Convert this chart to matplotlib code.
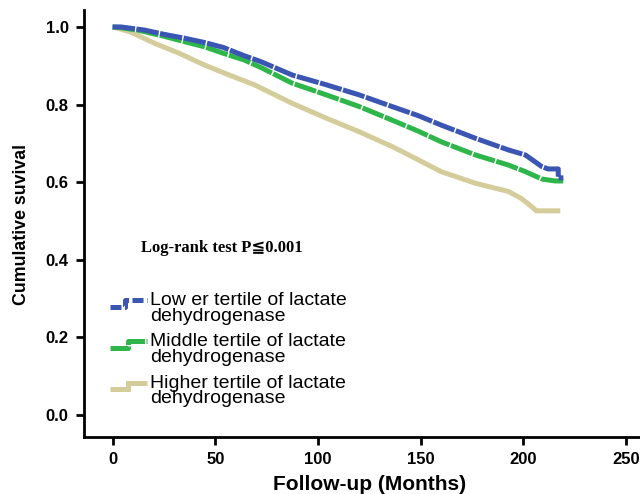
import matplotlib
matplotlib.use("Agg")
import matplotlib.pyplot as plt
from matplotlib.lines import Line2D
from matplotlib.legend_handler import HandlerBase

# Data: follow-up months and cumulative survival
lower_t = [0, 4, 15.5, 25, 35, 44.7, 54, 64, 72, 87.5, 104, 120, 136, 149, 160, 176.7, 192.7, 201, 209, 212, 217, 217, 219.5]
lower_s = [1.0, 1.0, 0.992, 0.981, 0.971, 0.960, 0.947, 0.926, 0.911, 0.876, 0.851, 0.825, 0.795, 0.771, 0.747, 0.713, 0.683, 0.670, 0.640, 0.634, 0.634, 0.611, 0.611]

middle_t = [0, 4, 12, 23.6, 35, 44.7, 54, 64, 72, 87.5, 104, 120, 136, 149, 160, 176.7, 192.7, 201, 209, 215.5, 219.5]
middle_s = [1.0, 0.998, 0.992, 0.978, 0.962, 0.949, 0.932, 0.915, 0.896, 0.855, 0.825, 0.795, 0.760, 0.731, 0.704, 0.670, 0.644, 0.627, 0.608, 0.603, 0.603]

higher_t = [0, 8.3, 20.4, 32.5, 44.7, 56.8, 69, 87.5, 104, 120, 136, 149, 160, 176.7, 192.7, 199, 204, 206.3, 218]
higher_s = [1.0, 0.988, 0.958, 0.932, 0.902, 0.876, 0.851, 0.803, 0.765, 0.730, 0.692, 0.657, 0.627, 0.597, 0.576, 0.558, 0.537, 0.526, 0.526]

labels = ["Low er tertile of lactate\ndehydrogenase",
          "Middle tertile of lactate\ndehydrogenase",
          "Higher tertile of lactate\ndehydrogenase"]
colors = ["#3b55b3", "#2eb64b", "#d4cc9b"]

x_ticks = [0, 50, 100, 150, 200, 250]
y_ticks = [0.0, 0.2, 0.4, 0.6, 0.8, 1.0]

plt.rcParams['font.family'] = ['Liberation Sans', 'DejaVu Sans']

fig = plt.figure(figsize=(6.4, 4.94), dpi=100)
ax = fig.add_axes([0.131, 0.1154, 0.869, 0.8646])

LW = 3.6
series = [(higher_t, higher_s, colors[2], None),
          (middle_t, middle_s, colors[1], (4.5, 0.3)),
          (lower_t, lower_s, colors[0], (4.5, 0.3))]
for t, s, c, d in series:
    ln, = ax.plot(t, s, color=c, lw=LW, solid_capstyle='butt', solid_joinstyle='miter')
    if d is not None:
        ln.set_dashes(d)
        ln.set_dash_capstyle('butt')

ax.set_xlim(-14, 256.8)
ax.set_ylim(-0.057, 1.044)
ax.set_xticks(x_ticks)
ax.set_yticks(y_ticks)
ax.set_xticklabels([str(v) for v in x_ticks], fontweight='bold', fontsize=12)
ax.set_yticklabels([f"{v:.1f}" for v in y_ticks], fontweight='bold', fontsize=12)
ax.tick_params(direction='out', length=6, width=2, pad=5)
for side in ['top', 'right']:
    ax.spines[side].set_visible(False)
for side in ['left', 'bottom']:
    ax.spines[side].set_linewidth(2)

ax.set_xlabel("Follow-up (Months)", fontweight='bold', fontsize=15, va='center')
ax.xaxis.set_label_coords(0.513, -0.112)
ax.set_ylabel("Cumulative suvival", fontweight='bold', fontsize=12.8, va='center')
ax.yaxis.set_label_coords(-0.112, 0.497)

ax.text(0.103, 0.443, "Log-rank test P≦0.001", transform=ax.transAxes,
        family=['Liberation Serif', 'DejaVu Sans', 'Noto Sans CJK SC'], fontweight='bold',
        fontsize=12, va='center', ha='left')


class StepHandler(HandlerBase):
    def __init__(self, color, dashes=None, split=0.5):
        super().__init__()
        self.color = color
        self.dashes = dashes
        self.split = split

    def create_artists(self, legend, orig_handle, xdescent, ydescent, width, height, fontsize, trans):
        x0 = -xdescent
        x1 = x0 + width
        xm = x0 + width * self.split
        yl = -ydescent + height * 0.6
        yh = -ydescent + height * 1.08
        line = Line2D([x0, xm, xm, x1], [yl, yl, yh, yh], color=self.color, lw=LW,
                      solid_joinstyle='miter', solid_capstyle='butt')
        if self.dashes is not None:
            line.set_dashes(self.dashes)
            line.set_dash_capstyle('butt')
        line.set_transform(trans)
        return [line]


handles = [Line2D([0], [0]), Line2D([0], [0]), Line2D([0], [0])]
hmap = {handles[0]: StepHandler(colors[0], dashes=(2.2, 0.7), split=0.4),
        handles[1]: StepHandler(colors[1], dashes=(4.0, 0.3), split=0.5),
        handles[2]: StepHandler(colors[2], split=0.5)}
leg = ax.legend(handles, labels, handler_map=hmap, loc='upper left', bbox_to_anchor=(0.047, 0.339),
                frameon=False, fontsize=14, handlelength=1.9, handletextpad=0.15,
                labelspacing=0.45, borderaxespad=0, borderpad=0)
for txt in leg.get_texts():
    txt.set_linespacing(0.88)

fig.savefig("out.png", dpi=100)
